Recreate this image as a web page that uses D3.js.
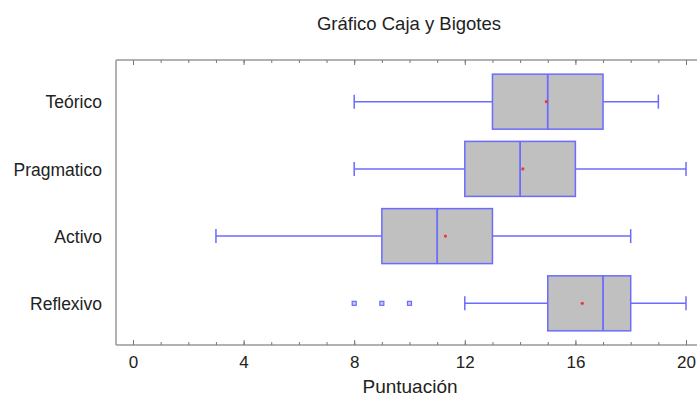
<!DOCTYPE html>
<html>
<head>
<meta charset="utf-8">
<script src="https://cdn.jsdelivr.net/npm/d3@7"></script>
<style>
  body { margin: 0; background: #fff; }
  svg { font-family: "Liberation Sans", Arial, sans-serif; }
</style>
</head>
<body>
<script>
// data
var categories = ["Teórico", "Pragmatico", "Activo", "Reflexivo"];
var whiskerLow  = [8, 8, 3, 12];
var q1          = [13, 12, 9, 15];
var medians     = [15, 14, 11, 17];
var q3          = [17, 16, 13, 18];
var whiskerHigh = [19, 20, 18, 20];
var means       = [14.95, 14.1, 11.3, 16.25];
var outliers    = [[], [], [], [8, 9, 10]];
var xTicks      = [0, 4, 8, 12, 16, 20];

var width = 697, height = 398;
// note: "top" is reserved on window, so use plot* names
var plotLeft = 116, plotTop = 60, plotBottom = 345, plotRight = 700;

var svg = d3.select("body").append("svg")
  .attr("width", width)
  .attr("height", height);

var x = d3.scaleLinear().domain([0, 20]).range([133, 686]);
var y = d3.scalePoint().domain(categories).range([plotTop, plotBottom]).padding(0.62);
var boxH = 55, capH = 14;
var blue = "#6b6bff";

// frame lines
function frameLine(x1, y1, x2, y2) {
  svg.append("line").attr("x1", x1).attr("x2", x2).attr("y1", y1).attr("y2", y2)
    .attr("stroke", "#999").attr("stroke-width", 1.5);
}
frameLine(plotLeft, plotTop, plotRight, plotTop);
frameLine(plotLeft, plotBottom, plotRight, plotBottom);
frameLine(plotLeft, plotTop, plotLeft, plotBottom);

// minor + major ticks, bottom and top (pointing inward)
function tickAxis(axis, vals, size, ty, labels) {
  var g = svg.append("g").attr("transform", "translate(0," + ty + ")")
    .call(axis(x).tickValues(vals).tickSize(size).tickPadding(11)
      .tickFormat(labels ? d3.format("d") : ""));
  g.select(".domain").remove();
  g.selectAll(".tick line").attr("stroke", "#777");
  g.selectAll("text").attr("fill", "#222").style("font-size", "17px");
  return g;
}
tickAxis(d3.axisBottom, d3.range(0, 21), -3, plotBottom, false);
tickAxis(d3.axisBottom, xTicks, -5, plotBottom, true);
tickAxis(d3.axisTop, d3.range(0, 21), -3, plotTop, false);
tickAxis(d3.axisTop, xTicks, -5, plotTop, false);

// category labels
svg.append("g").selectAll("text").data(categories).enter().append("text")
  .attr("x", 102)
  .attr("y", function(d) { return y(d); })
  .attr("dy", "0.38em")
  .attr("text-anchor", "end")
  .attr("fill", "#222")
  .style("font-size", "17.5px")
  .text(function(d) { return d; });

// boxes
var rows = categories.map(function(c, i) {
  return {cat: c, lo: whiskerLow[i], q1: q1[i], med: medians[i], q3: q3[i],
          hi: whiskerHigh[i], mean: means[i], out: outliers[i]};
});

var g = svg.append("g").selectAll("g").data(rows).enter().append("g");

g.append("line")
  .attr("x1", function(d) { return x(d.lo); })
  .attr("x2", function(d) { return x(d.q1); })
  .attr("y1", function(d) { return y(d.cat); })
  .attr("y2", function(d) { return y(d.cat); })
  .attr("stroke", blue).attr("stroke-width", 1.5);
g.append("line")
  .attr("x1", function(d) { return x(d.q3); })
  .attr("x2", function(d) { return x(d.hi); })
  .attr("y1", function(d) { return y(d.cat); })
  .attr("y2", function(d) { return y(d.cat); })
  .attr("stroke", blue).attr("stroke-width", 1.5);
// caps
["lo", "hi"].forEach(function(k) {
  g.append("line")
    .attr("x1", function(d) { return x(d[k]); })
    .attr("x2", function(d) { return x(d[k]); })
    .attr("y1", function(d) { return y(d.cat) - capH / 2; })
    .attr("y2", function(d) { return y(d.cat) + capH / 2; })
    .attr("stroke", blue).attr("stroke-width", 1.5);
});

g.append("rect")
  .attr("x", function(d) { return x(d.q1); })
  .attr("width", function(d) { return x(d.q3) - x(d.q1); })
  .attr("y", function(d) { return y(d.cat) - boxH / 2; })
  .attr("height", boxH)
  .attr("fill", "#c0c0c0")
  .attr("stroke", blue).attr("stroke-width", 1.5);

g.append("line")
  .attr("x1", function(d) { return x(d.med); })
  .attr("x2", function(d) { return x(d.med); })
  .attr("y1", function(d) { return y(d.cat) - boxH / 2; })
  .attr("y2", function(d) { return y(d.cat) + boxH / 2; })
  .attr("stroke", blue).attr("stroke-width", 1.8);

g.append("circle")
  .attr("cx", function(d) { return x(d.mean); })
  .attr("cy", function(d) { return y(d.cat); })
  .attr("r", 1.6)
  .attr("fill", "#e83a3a");

g.each(function(d) {
  d3.select(this).selectAll(".out").data(d.out).enter().append("rect")
    .attr("class", "out")
    .attr("x", function(v) { return x(v) - 2; })
    .attr("y", y(d.cat) - 2)
    .attr("width", 4).attr("height", 4)
    .attr("fill", "#c8c8ff")
    .attr("stroke", blue).attr("stroke-width", 1.2);
});

// titles
svg.append("text")
  .attr("x", 409).attr("y", 30)
  .attr("text-anchor", "middle")
  .attr("fill", "#222")
  .style("font-size", "18.5px")
  .text("Gráfico Caja y Bigotes");

svg.append("text")
  .attr("x", 410).attr("y", 393)
  .attr("text-anchor", "middle")
  .attr("fill", "#222")
  .style("font-size", "19px")
  .text("Puntuación");
</script>
</body>
</html>
